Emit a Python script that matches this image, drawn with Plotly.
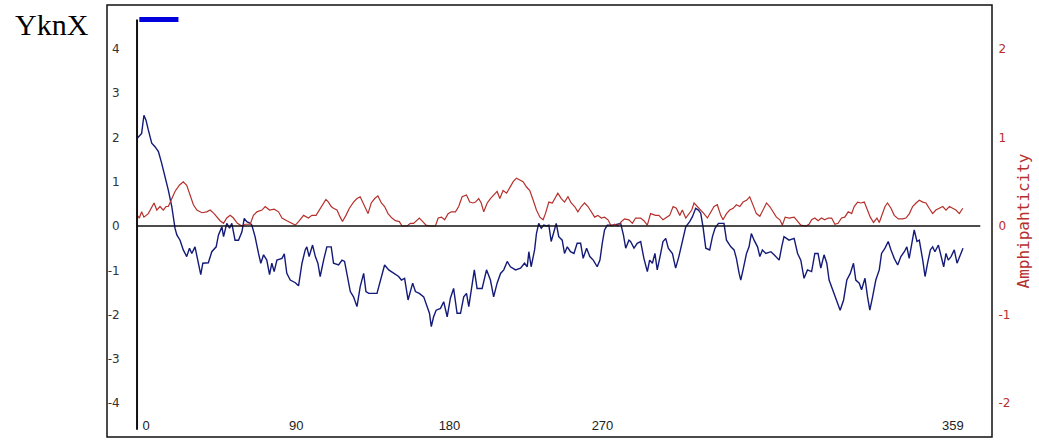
import plotly.graph_objects as go

# ---------------- data ----------------
hyd_pos = [0.1, 2.0, 3.0, 3.9, 4.9, 6.4, 7.8, 9.3, 10.7, 12.2, 13.6, 15.1, 16.5, 17.3, 18.7, 20.1, 21.6,
           22.8, 23.8, 25.2, 26.7, 27.7, 28.6, 31.0, 32.5, 34.4, 35.4, 36.9, 37.6, 39.0, 40.2, 41.2,
           42.6, 44.1, 45.6, 46.6, 47.7, 49.2, 49.9, 51.3, 52.8, 53.8, 55.0, 56.4, 57.6, 58.6, 59.6,
           60.8, 63.0, 64.0, 65.1, 66.6, 68.8, 70.2, 71.7, 73.1, 73.8, 74.8, 76.3, 77.5, 78.6, 79.6,
           81.1, 82.5, 84.4, 85.4, 87.6, 89.1, 90.2, 91.3, 92.7, 94.1, 95.6, 97.0, 98.5, 99.5, 100.7,
           104.3, 105.7, 107.6, 109.4, 111.5, 113.7, 114.9, 116.3, 117.8, 118.8, 119.8, 121.0, 122.7,
           124.6, 126.1, 127.1, 127.9, 128.9, 130.0, 131.9, 133.3, 134.8, 136.2, 137.6, 139.1, 140.6,
           142.0, 143.2, 144.2, 145.6, 146.6, 147.8, 150.0, 151.9, 153.6, 155.0, 156.5, 158.0, 159.4,
           160.9, 162.3, 164.5, 166.7, 168.4, 169.6, 170.3, 171.3, 172.8, 173.6, 174.6, 175.7, 176.8,
           178.0, 179.0, 180.0, 181.2, 182.2, 183.3, 184.8, 185.8, 187.0, 188.4, 189.9, 191.3, 192.8,
           193.9, 195.4, 196.8, 198.3, 200.0, 201.2, 202.2, 203.2, 204.4, 207.3, 210.2, 211.4, 212.4,
           213.8, 214.5, 216.0, 217.4, 218.9, 220.3, 221.8, 222.8, 224.0, 225.1, 226.1, 227.6, 228.6,
           229.8, 230.9, 232.7, 234.1, 235.5, 237.0, 238.5, 240.2, 241.4, 242.8, 244.0, 245.0, 246.0,
           247.2, 248.9, 250.1, 251.2, 252.7, 255.1, 256.2, 258.1, 259.5, 260.5, 261.7, 262.4, 263.4,
           264.9, 266.0, 267.0, 268.2, 269.7, 270.7, 271.8, 273.3, 275.5, 276.9, 279.1, 280.2, 281.2,
           283.4, 285.6, 287.1, 288.5, 289.9, 291.4, 293.2, 294.6, 296.0, 297.2, 298.6, 299.8, 300.8,
           302.3, 303.7, 305.6, 307.1, 308.5, 310.0, 311.4, 312.4, 313.9, 314.9, 316.4, 317.5, 318.5,
           319.7, 321.1, 322.6, 323.6, 325.1, 326.5, 327.7, 329.1, 330.6, 332.0, 333.5, 334.6, 335.6,
           336.7, 337.8, 339.0, 340.0, 341.5, 342.5, 343.6, 344.8, 345.8, 346.8, 348.3, 349.7, 350.6,
           351.6, 352.6, 353.8, 355.2, 356.4, 357.4, 359.0]
hyd_val = [1.98, 2.09, 2.5, 2.39, 2.17, 1.87, 1.79, 1.68, 1.42, 1.11, 0.81, 0.44, -0.05, -0.2, -0.32, -0.54, -0.69,
           -0.5, -0.62, -0.47, -0.88, -1.1, -0.84, -0.83, -0.58, -0.47, -0.2, -0.02, -0.24, 0.06, -0.05, 0.06,
           -0.32, -0.32, -0.13, 0.17, 0.1, 0.06, 0.02, -0.24, -0.62, -0.84, -0.65, -0.77, -1.1, -0.84, -1.03,
           -0.77, -0.73, -0.63, -1.07, -1.22, -1.28, -1.35, -0.84, -0.54, -0.47, -0.69, -0.43, -0.69, -0.84, -1.14,
           -0.77, -0.47, -0.47, -0.84, -0.88, -0.77, -0.8, -1.07, -1.48, -1.6, -1.82, -1.37, -1.07, -1.48, -1.52,
           -1.52, -1.22, -0.88, -0.99, -1.07, -1.14, -1.22, -1.18, -1.67, -1.48, -1.29, -1.48, -1.52,
           -1.6, -1.82, -1.97, -2.27, -2.05, -1.9, -1.86, -1.71, -2.05, -1.63, -1.41, -1.97, -1.97,
           -1.6, -1.52, -1.82, -1.37, -0.99, -1.41, -1.41, -0.99, -1.22, -1.6, -1.29, -1.07, -0.99,
           -0.8, -0.92, -0.99, -0.95, -0.84, -0.92, -0.58, -0.92, -0.54, -0.17, 0.06, -0.05, 0.02,
           0.0, 0.02, -0.35, -0.13, 0.06, -0.24, -0.32, -0.62, -0.47, -0.58, -0.62, -0.39, -0.39,
           -0.73, -0.5, -0.69, -0.77, -0.92, -0.77, -0.39, -0.09, 0.02, 0.02, 0.06, -0.2, -0.5,
           -0.32, -0.35, -0.5, -0.39, -0.35, -0.73, -1.03, -0.77, -0.84, -0.62, -0.99, -0.62, -0.35,
           -0.28, -0.5, -0.62, -0.95, -0.69, -0.32, -0.02, 0.1, 0.21, 0.4, 0.36, 0.29, -0.02,
           -0.5, -0.54, -0.24, -0.05, 0.06, 0.06, -0.32, -0.47, -0.54, -0.73, -1.07, -1.22, -0.99,
           -0.62, -0.47, -0.17, -0.32, -0.47, -0.69, -0.54, -0.62, -0.58, -0.65, -0.77, -0.47, -0.24,
           -0.32, -0.28, -0.62, -0.77, -1.18, -0.99, -1.03, -0.62, -0.62, -0.95, -0.65, -0.84, -1.22,
           -1.44, -1.67, -1.9, -1.67, -1.22, -1.07, -0.84, -1.22, -1.29, -1.44, -1.18, -1.6, -1.9,
           -1.6, -1.22, -0.99, -0.62, -0.5, -0.35, -0.54, -0.73, -0.88, -0.69, -0.58, -0.47, -0.73,
           -0.39, -0.09, -0.35, -0.32, -0.77, -1.14, -0.84, -0.54, -0.47, -0.58, -0.43, -0.69, -0.92,
           -0.62, -0.77, -0.69, -0.54, -0.84, -0.69, -0.5]

amp_pos = [0.1, 1.0, 2.0, 3.0, 4.9, 6.4, 7.4, 8.6, 10.0, 11.4, 12.6, 13.6, 15.1, 16.5, 18.4, 20.1, 21.6,
           23.1, 24.5, 26.0, 28.2, 30.3, 31.8, 33.5, 34.9, 36.1, 37.6, 39.0, 40.5, 41.9, 43.6, 45.6,
           47.0, 49.2, 50.6, 52.1, 54.3, 55.7, 57.6, 59.6, 61.5, 63.0, 65.1, 67.3, 68.8, 70.2, 72.4,
           74.5, 76.0, 77.8, 79.2, 80.4, 82.1, 83.2, 84.4, 85.4, 86.9, 88.3, 89.3, 90.8, 92.3, 94.1,
           95.6, 97.0, 98.5, 100.4, 101.8, 103.3, 104.7, 106.2, 107.6, 109.1, 110.8, 112.3, 114.0,
           115.2, 117.4, 118.8, 120.2, 121.3, 122.7, 124.2, 125.6, 127.1, 129.7, 130.9, 132.3, 133.7,
           135.2, 136.6, 138.4, 139.8, 141.3, 143.2, 144.6, 146.1, 147.1, 148.5, 149.6, 150.7, 152.2,
           153.6, 155.0, 156.5, 157.7, 159.1, 160.6, 162.0, 163.5, 164.9, 166.4, 167.8, 169.3, 170.7,
           172.2, 173.6, 175.1, 176.5, 177.5, 179.0, 180.5, 181.9, 182.9, 184.4, 185.8, 187.3, 188.7,
           190.2, 191.6, 193.1, 194.5, 196.0, 197.4, 198.9, 200.3, 201.8, 203.2, 204.7, 206.1, 207.6,
           209.0, 210.5, 211.9, 213.8, 215.3, 216.7, 218.9, 220.3, 221.8, 223.2, 225.4, 226.8, 228.6,
           230.1, 231.5, 233.0, 234.4, 235.9, 237.0, 238.5, 239.9, 241.1, 242.1, 243.6, 245.0, 246.4,
           247.9, 249.3, 250.8, 252.2, 253.7, 254.7, 256.2, 257.6, 259.1, 260.5, 262.0, 263.4, 264.9,
           266.3, 267.7, 269.2, 270.7, 272.1, 273.6, 275.0, 276.5, 277.9, 279.4, 280.5, 281.7, 283.4,
           285.6, 287.1, 288.5, 290.7, 292.1, 293.2, 294.6, 296.0, 297.5, 298.9, 300.4, 301.9, 303.3,
           304.7, 306.2, 307.6, 309.1, 310.6, 311.7, 313.2, 314.6, 316.1, 317.2, 318.7, 320.1, 321.6,
           322.6, 323.6, 325.1, 326.2, 327.7, 329.1, 330.9, 332.8, 334.2, 335.7, 337.1, 338.6, 340.0,
           341.5, 342.9, 344.3, 345.8, 347.2, 348.7, 350.2, 351.6, 353.1, 354.5, 355.9, 357.4, 358.9]
amp_val = [0.12, 0.09, 0.16, 0.1, 0.14, 0.22, 0.26, 0.18, 0.22, 0.18, 0.22, 0.22, 0.31, 0.39, 0.46, 0.5, 0.46,
           0.35, 0.24, 0.18, 0.15, 0.16, 0.18, 0.14, 0.1, 0.06, 0.03, 0.09, 0.12, 0.09, 0.03, 0.0,
           0.02, 0.02, 0.12, 0.16, 0.18, 0.22, 0.18, 0.19, 0.16, 0.09, 0.06, 0.03, 0.01, 0.05, 0.12,
           0.09, 0.12, 0.12, 0.18, 0.24, 0.3, 0.27, 0.22, 0.2, 0.18, 0.1, 0.05, 0.12, 0.2, 0.27,
           0.31, 0.33, 0.24, 0.14, 0.26, 0.31, 0.34, 0.26, 0.22, 0.14, 0.09, 0.06, 0.05,
           0.0, 0.0, 0.03, 0.03, 0.06, 0.09, 0.05, 0.01, 0.0, 0.0, 0.09, 0.1, 0.07,
           0.14, 0.16, 0.16, 0.22, 0.33, 0.35, 0.27, 0.26, 0.27, 0.31, 0.26, 0.16, 0.26,
           0.31, 0.35, 0.39, 0.31, 0.4, 0.37, 0.44, 0.5, 0.54, 0.52, 0.5, 0.44, 0.4,
           0.29, 0.18, 0.1, 0.07, 0.14, 0.27, 0.26, 0.33, 0.37, 0.31, 0.27, 0.33, 0.26,
           0.22, 0.16, 0.22, 0.26, 0.22, 0.16, 0.1, 0.12, 0.09, 0.1, 0.07, 0.0, 0.02,
           0.0, 0.05, 0.08, 0.07, 0.03, 0.09, 0.09, 0.06, 0.01, 0.14, 0.12, 0.12, 0.07,
           0.1, 0.12, 0.22, 0.2, 0.12, 0.18, 0.09, 0.14, 0.18, 0.26, 0.22, 0.18, 0.14,
           0.09, 0.16, 0.22, 0.24, 0.12, 0.07, 0.14, 0.18, 0.2, 0.24, 0.22, 0.27, 0.29,
           0.33, 0.24, 0.14, 0.11, 0.18, 0.26, 0.22, 0.16, 0.1, 0.07, 0.01, 0.1, 0.09,
           0.1, 0.05, 0.01, 0.0, 0.02, 0.07, 0.09, 0.06, 0.09, 0.07, 0.09, 0.09, 0.02,
           0.03, 0.09, 0.1, 0.16, 0.14, 0.22, 0.27, 0.26, 0.27, 0.2, 0.1, 0.04, 0.09,
           0.04, 0.12, 0.22, 0.26, 0.2, 0.12, 0.08, 0.08, 0.09, 0.14, 0.22, 0.26, 0.29,
           0.27, 0.26, 0.2, 0.14, 0.18, 0.2, 0.22, 0.18, 0.22, 0.2, 0.18, 0.14, 0.2]

segment_start = [1]
segment_end = [18]

x_tick_pos = [3.9, 69.2, 135.8, 202.3, 354.6]
x_tick_text = ["0", "90", "180", "270", "359"]
left_ticks = [-4, -3, -2, -1, 0, 1, 2, 3, 4]
left_tick_text = ["-4", "-3", "-2", "-1", "0", "1", "2", "3", "4"]
right_ticks = [-2, -1, 0, 1, 2]
right_tick_text = ["-2", "-1", "0", "1", "2"]

# ---------------- figure ----------------
W, H = 1039, 448
ml, mr, mt, mb = 107, 47, 5, 11
x_range = [-13.05, 371.6]
y_range = [-4.763, 4.989]
y2_range = [y_range[0] / 2, y_range[1] / 2]
y_top = 4.66
RED = "#b5302c"

fig = go.Figure()

fig.add_trace(go.Scatter(x=amp_pos, y=amp_val, mode="lines", yaxis="y2",
                         line=dict(color=RED, width=1.2), hoverinfo="skip"))
fig.add_trace(go.Scatter(x=hyd_pos, y=hyd_val, mode="lines",
                         line=dict(color="#141a78", width=1.4), hoverinfo="skip"))
for s, e in zip(segment_start, segment_end):
    fig.add_trace(go.Scatter(x=[s, e], y=[y_top, y_top], mode="lines",
                             line=dict(color="#0000dd", width=5), hoverinfo="skip"))

# frame
fig.add_shape(type="rect", xref="paper", yref="paper", x0=0, x1=1, y0=0, y1=1,
              line=dict(color="#111", width=1.5))
# vertical left axis line
fig.add_shape(type="line", xref="x", yref="y", x0=0, x1=0, y0=-4.6, y1=y_top,
              line=dict(color="#111", width=2))
# zero line
fig.add_shape(type="line", xref="x", yref="y", x0=0, x1=max(hyd_pos) + 7.5, y0=0, y1=0,
              line=dict(color="#111", width=1.5))

fig.add_annotation(text="YknX", xref="paper", yref="paper",
                   x=(13 - ml) / (W - ml - mr), y=(H - mb - 6) / (H - mt - mb),
                   xanchor="left", yanchor="top", showarrow=False,
                   font=dict(family="Liberation Serif, Times New Roman, serif", size=30, color="#000"))

fig.update_layout(
    width=W, height=H,
    margin=dict(l=ml, r=mr, t=mt, b=mb, autoexpand=False),
    paper_bgcolor="white", plot_bgcolor="white",
    showlegend=False,
    xaxis=dict(range=x_range, anchor="free", position=(H - mb - 416) / (H - mt - mb),
               tickvals=x_tick_pos, ticktext=x_tick_text, ticks="", showgrid=False,
               zeroline=False, showline=False,
               tickfont=dict(family="Liberation Sans Narrow, Arial Narrow, Liberation Sans, sans-serif",
                             size=13, color="#222")),
    yaxis=dict(range=y_range, anchor="free", position=30 / (W - ml - mr),
               tickvals=left_ticks, ticktext=left_tick_text,
               ticks="outside", ticklen=15, tickcolor="rgba(0,0,0,0)",
               showgrid=False, zeroline=False, showline=False,
               tickfont=dict(family="DejaVu Sans, sans-serif", size=12, color="#333")),
    yaxis2=dict(range=y2_range, overlaying="y", side="right", anchor="free", position=1.0,
                tickvals=right_ticks, ticktext=right_tick_text,
                ticks="outside", ticklen=3, tickcolor="rgba(0,0,0,0)",
                showgrid=False, zeroline=False, showline=False,
                tickfont=dict(family="DejaVu Sans, sans-serif", size=12, color=RED),
                title=dict(text="Amphipahticity", standoff=8,
                           font=dict(family="DejaVu Sans Mono, monospace", size=16, color=RED))),
)

fig.write_html("out.html",
               config={"staticPlot": True, "displayModeBar": False},
               post_script="document.body.style.margin='0';document.body.style.overflow='hidden';")
